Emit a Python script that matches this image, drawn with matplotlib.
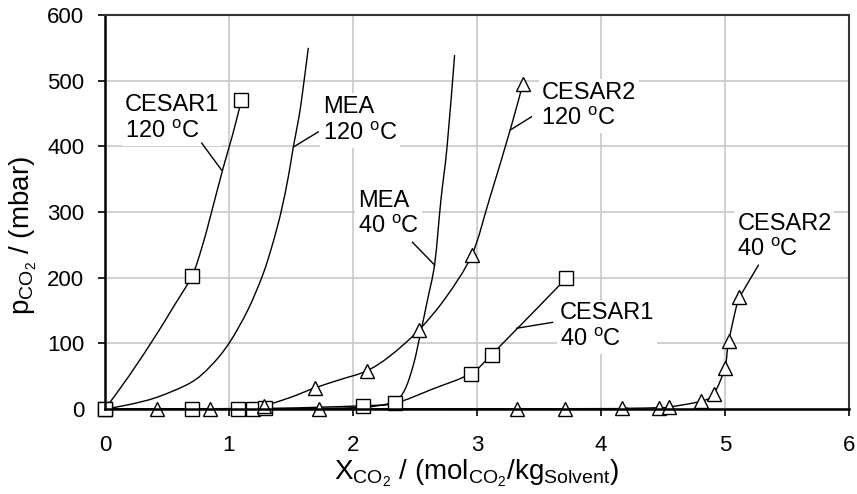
import numpy as np
import matplotlib
matplotlib.use("Agg")
import matplotlib.pyplot as plt
from matplotlib.path import Path
from matplotlib.patches import PathPatch

plt.rcParams['font.family'] = ['Liberation Sans', 'DejaVu Sans']
plt.rcParams['mathtext.default'] = 'regular'

# --- data ---
# measured points (squares = CESAR1, triangles = CESAR2)
c1_120_x = [0, 0.70, 1.10]
c1_120_y = [0, 202, 470]
c1_40_x = [0, 0.70, 1.07, 1.19, 1.29, 2.08, 2.34, 2.95, 3.12, 3.72]
c1_40_y = [0, 0, 0, 0, 1, 5, 9, 54, 83, 199]
c2_120_x = [1.28, 1.69, 2.11, 2.53, 2.96, 3.37]
c2_120_y = [5, 32, 58, 120, 235, 495]
c2_40_x = [0.42, 0.85, 1.73, 3.32, 3.71, 4.17, 4.47, 4.55, 4.81, 4.91, 5.00, 5.03, 5.11]
c2_40_y = [0, 0, 0, 0, 0, 1, 2, 3, 12, 23, 63, 103, 170]

# model curves
c1_120_lx = [0, 0.2, 0.42, 0.55, 0.70, 0.78, 0.85, 0.95, 1.03, 1.10]
c1_120_ly = [0, 52, 115, 155, 202, 245, 293, 365, 418, 470]
mea_120_lx = [0, 0.2, 0.42, 0.69, 0.85, 1.0, 1.15, 1.27, 1.35, 1.42, 1.48, 1.52, 1.56, 1.59, 1.64]
mea_120_ly = [0, 7, 18, 40, 65, 100, 150, 203, 250, 300, 355, 400, 440, 477, 550]
mea_40_lx = [0, 1.5, 2.0, 2.2, 2.34, 2.42, 2.49, 2.55, 2.60, 2.66, 2.71, 2.76, 2.82]
mea_40_ly = [0, 0.5, 2, 5, 12, 30, 69, 120, 165, 222, 319, 401, 539]
c2_120_lx = [0, 0.8, 1.1, 1.28, 1.5, 1.69, 1.9, 2.11, 2.30, 2.53, 2.75, 2.96, 3.10, 3.27, 3.37]
c2_120_ly = [0, 0, 1, 5, 18, 32, 45, 58, 81, 120, 170, 235, 319, 426, 495]
c1_40_lx = [0, 1.3, 2.08, 2.34, 2.65, 2.95, 3.12, 3.72]
c1_40_ly = [0, 1, 5, 9, 31, 54, 83, 199]
c2_40_lx = [0, 3.7, 4.17, 4.47, 4.55, 4.81, 4.91, 5.00, 5.03, 5.11]
c2_40_ly = [0, 0.5, 1, 2, 3, 12, 23, 63, 103, 170]

deg = ' $^o$C'
labels = ['CESAR1\n120' + deg, 'MEA\n120' + deg, 'MEA\n40' + deg,
          'CESAR2\n120' + deg, 'CESAR1\n40' + deg, 'CESAR2\n40' + deg]
label_x = [0.16, 1.76, 2.04, 3.52, 3.67, 5.10]
label_y = [413, 410, 268, 432, 96, 233]   # baseline of the last line
# leader lines: (x0, y0, x1, y1)
leaders = [(0.78, 405, 0.94, 364), (1.72, 422, 1.52, 399), (2.48, 254, 2.66, 219),
           (3.44, 445, 3.27, 425), (3.61, 132, 3.32, 123), (5.27, 219, 5.12, 171)]


def smooth_path(x, y):
    # excel-like smoothed line: cubic bezier through the points
    p = np.column_stack([x, y]).astype(float)
    n = len(p)
    verts = [p[0]]
    codes = [Path.MOVETO]
    for i in range(n - 1):
        p0 = p[i - 1] if i > 0 else p[i]
        p3 = p[i + 2] if i + 2 < n else p[i + 1]
        verts += [p[i] + (p[i + 1] - p0) / 6, p[i + 1] - (p3 - p[i]) / 6, p[i + 1]]
        codes += [Path.CURVE4] * 3
    return Path(verts, codes)


fig = plt.figure(figsize=(8.57, 4.94), dpi=100)
ax = fig.add_axes([0.1225, 0.172, 0.868, 0.7976])

lw = 1.0
for lx, ly in [(c1_120_lx, c1_120_ly), (mea_120_lx, mea_120_ly), (mea_40_lx, mea_40_ly),
               (c2_120_lx, c2_120_ly), (c1_40_lx, c1_40_ly), (c2_40_lx, c2_40_ly)]:
    ax.add_patch(PathPatch(smooth_path(lx, ly), fc='none', ec='black', lw=lw, zorder=2))

mk = dict(ls='none', mfc='white', mec='black', mew=1.0, ms=10, clip_on=False, zorder=2.2)
ax.plot(c1_120_x, c1_120_y, marker='s', **mk)
ax.plot(c1_40_x, c1_40_y, marker='s', **mk)
ax.plot(c2_120_x, c2_120_y, marker='^', **mk)
ax.plot(c2_40_x, c2_40_y, marker='^', **mk)

for t, x, y in zip(labels, label_x, label_y):
    ax.text(x, y, t, fontsize=17, ha='left', va='baseline', linespacing=1.25, zorder=1.5,
            bbox=dict(boxstyle='square,pad=0.12', fc='white', ec='none'))
for x0, y0, x1, y1 in leaders:
    ax.plot([x0, x1], [y0, y1], color='black', lw=lw, zorder=2)

ax.set_xlim(0, 6)
ax.set_ylim(0, 600)
ax.set_xticks(range(0, 7))
ax.set_yticks(range(0, 601, 100))
ax.set_axisbelow(True)
ax.grid(True, color='#c8c8c8', lw=1.2)
ax.tick_params(axis='both', labelsize=16, direction='out', length=5, width=1.2)
ax.tick_params(axis='x', pad=14)
ax.tick_params(axis='y', pad=10)

for s in ['left', 'bottom']:
    ax.spines[s].set_color('black')
    ax.spines[s].set_linewidth(1.8)
for s in ['top', 'right']:
    ax.spines[s].set_color('#333333')
    ax.spines[s].set_linewidth(1.5)

ax.set_xlabel(r'X$_{CO_2}$ / (mol$_{CO_2}$/kg$_{Solvent}$)', fontsize=20, labelpad=1)
ax.set_ylabel(r'p$_{CO_2}$ / (mbar)', fontsize=20)
ax.yaxis.set_label_coords(-0.089, 0.44)

fig.savefig('out.png', dpi=100)
